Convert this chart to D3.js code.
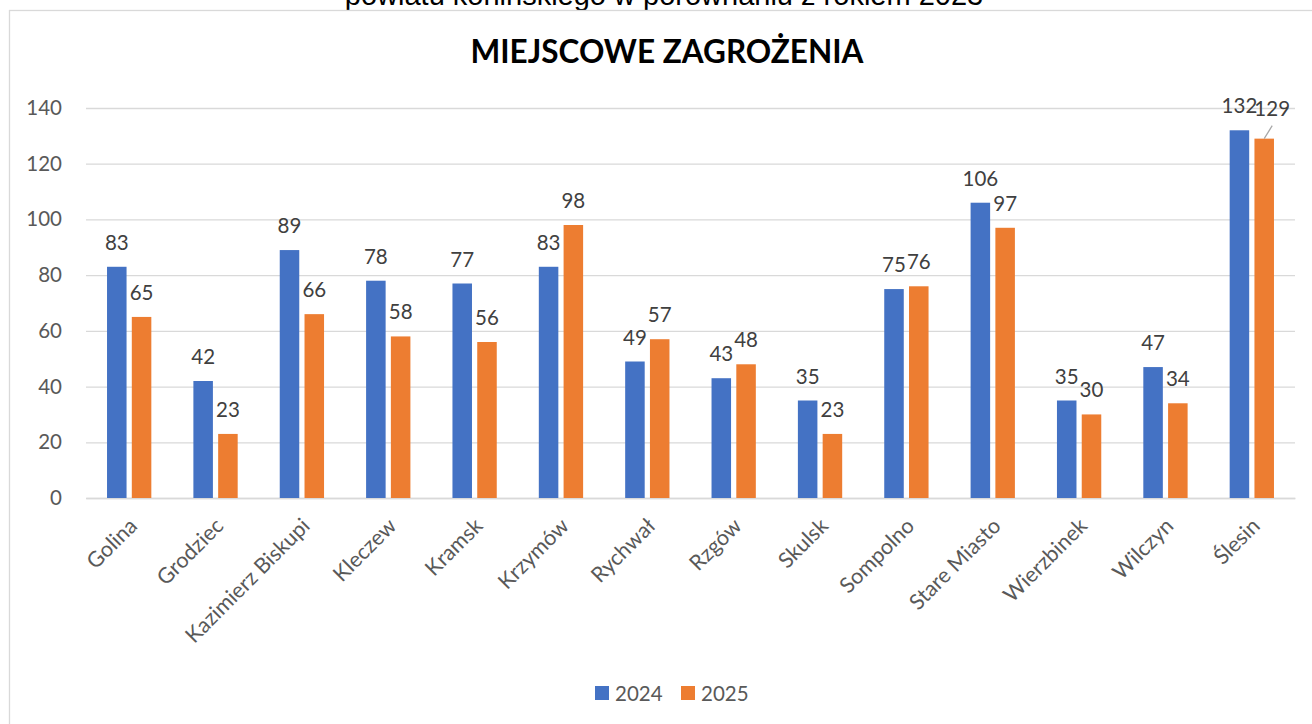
<!DOCTYPE html>
<meta charset="utf-8">
<script src="https://d3js.org/d3.v7.min.js"></script>
<style>
  body { margin: 0; background: #fff; }
  svg { display: block; }
</style>
<body>
<div id="chart"></div>
<script>

// data
var gminy = ["Golina", "Grodziec", "Kazimierz Biskupi", "Kleczew", "Kramsk", "Krzymów",
             "Rychwał", "Rzgów", "Skulsk", "Sompolno", "Stare Miasto", "Wierzbinek",
             "Wilczyn", "Ślesin"];
var lata = ["2024", "2025"];
var v2024 = [83, 42, 89, 78, 77, 83, 49, 43, 35, 75, 106, 35, 47, 132];
var v2025 = [65, 23, 66, 58, 56, 98, 57, 48, 23, 76, 97, 30, 34, 129];
var yTicks = [0, 20, 40, 60, 80, 100, 120, 140];

var colors = {"2024": "#4472C4", "2025": "#ED7D31"};
var font = "Lato, 'Open Sans', sans-serif";

var W = 1312, H = 724;
var svg = d3.select("#chart").append("svg")
    .attr("width", W)
    .attr("height", H);

// cut off subtitle line above the chart box (it is cropped in the source too)
svg.append("text")
    .attr("x", 664)
    .attr("y", 4.5)
    .attr("text-anchor", "middle")
    .style("font-family", "'Liberation Sans', Arial, sans-serif")
    .style("font-size", "29px")
    .style("fill", "#000")
    .text("powiatu konińskiego w porównaniu z rokiem 2023");

// chart border
svg.append("rect")
    .attr("x", 9.5)
    .attr("y", 10.5)
    .attr("width", 1330)
    .attr("height", 760)
    .style("fill", "none")
    .style("stroke", "#d9d9d9")
    .style("stroke-width", 1.3);

// title
svg.append("text")
    .attr("x", 667)
    .attr("y", 63)
    .attr("text-anchor", "middle")
    .style("font-family", font)
    .style("font-weight", "bold")
    .style("font-size", "31.5px")
    .style("fill", "#000")
    .text("MIEJSCOWE ZAGROŻENIA");

var rows = gminy.map(function(g, i) {
  return {gmina: g, "2024": v2024[i], "2025": v2025[i]};
});

var x0 = d3.scaleBand()
    .domain(gminy)
    .range([86, 1295])
    .paddingInner(0.487)
    .paddingOuter(0.2435);

var x1 = d3.scaleBand()
    .domain(lata)
    .range([0, x0.bandwidth()])
    .paddingInner(0.212);

var y = d3.scaleLinear()
    .domain([0, 140])
    .range([498, 108]);

// gridlines + y labels
var yAxis = svg.append("g")
    .attr("transform", "translate(86,0)")
    .call(d3.axisLeft(y).tickValues(yTicks).tickSize(-(1295 - 86)).tickPadding(24));
yAxis.select(".domain").remove();
yAxis.selectAll(".tick line")
    .style("stroke", "#d9d9d9")
    .style("stroke-width", 1.3);
yAxis.selectAll(".tick text")
    .style("font-family", font)
    .style("font-size", "20.5px")
    .style("fill", "#595959");

// x axis
var xAxis = svg.append("g")
    .attr("transform", "translate(0,498)")
    .call(d3.axisBottom(x0).tickSize(0).tickPadding(0));
xAxis.select(".domain")
    .style("stroke", "#d9d9d9")
    .style("stroke-width", 1.5);
xAxis.selectAll(".tick text")
    .style("font-family", font)
    .style("font-size", "21.5px")
    .style("fill", "#595959")
    .attr("text-anchor", "end")
    .attr("dy", "0.35em")
    .attr("transform", "translate(4,24) rotate(-45)");

// bars
var groups = svg.append("g")
  .selectAll("g")
  .data(rows)
  .enter()
  .append("g")
    .attr("transform", function(d) { return "translate(" + x0(d.gmina) + ",0)"; });

groups.selectAll("rect")
  .data(function(d) { return lata.map(function(k) { return {gmina: d.gmina, key: k, value: d[k]}; }); })
  .enter()
  .append("rect")
    .attr("x", function(d) { return x1(d.key); })
    .attr("y", function(d) { return y(d.value); })
    .attr("width", x1.bandwidth())
    .attr("height", function(d) { return y(0) - y(d.value); })
    .style("fill", function(d) { return colors[d.key]; });

// data labels (one of them pushed aside with a leader line, as in the source)
var nudge = {"Ślesin|2025": [8, -6]};

groups.selectAll(".lbl")
  .data(function(d) { return lata.map(function(k) { return {gmina: d.gmina, key: k, value: d[k]}; }); })
  .enter()
  .append("text")
    .attr("class", "lbl")
    .attr("x", function(d) {
      var n = nudge[d.gmina + "|" + d.key];
      return x1(d.key) + x1.bandwidth() / 2 + (n ? n[0] : 0);
    })
    .attr("y", function(d) {
      var n = nudge[d.gmina + "|" + d.key];
      return y(d.value) - 17 + (n ? n[1] : 0);
    })
    .attr("text-anchor", "middle")
    .style("font-family", font)
    .style("font-size", "20.5px")
    .style("fill", "#404040")
    .text(function(d) { return d.value; });

groups.selectAll(".leader")
  .data(function(d) {
    return lata.filter(function(k) { return nudge[d.gmina + "|" + k]; })
      .map(function(k) { return {gmina: d.gmina, key: k, value: d[k]}; });
  })
  .enter()
  .append("line")
    .attr("class", "leader")
    .attr("x1", function(d) { return x1(d.key) + x1.bandwidth() / 2; })
    .attr("y1", function(d) { return y(d.value); })
    .attr("x2", function(d) { return x1(d.key) + x1.bandwidth() / 2 + 8; })
    .attr("y2", function(d) { return y(d.value) - 13; })
    .style("stroke", "#a6a6a6")
    .style("stroke-width", 1.2);

// legend
var legend = svg.append("g")
  .selectAll("g")
  .data(lata)
  .enter()
  .append("g")
    .attr("transform", function(d, i) { return "translate(" + (595 + i * 86) + ",686)"; });

legend.append("rect")
    .attr("width", 14)
    .attr("height", 14)
    .style("fill", function(d) { return colors[d]; });

legend.append("text")
    .attr("x", 20)
    .attr("y", 14.5)
    .style("font-family", font)
    .style("font-size", "20.5px")
    .style("fill", "#595959")
    .text(function(d) { return d; });

</script>
</body>
